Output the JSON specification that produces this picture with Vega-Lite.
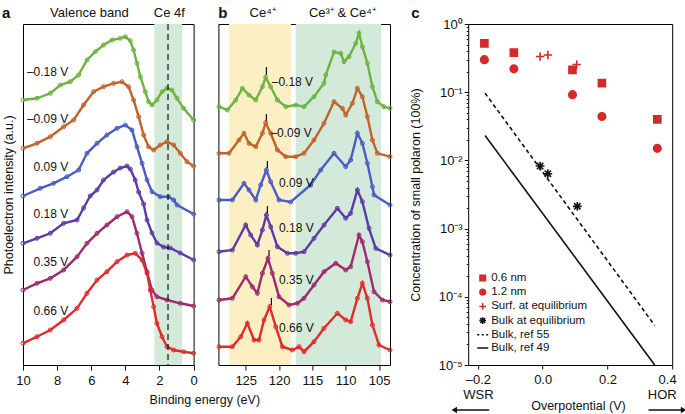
{
  "$schema": "https://vega.github.io/schema/vega-lite/v6.json",
  "background": "white",
  "padding": {"left": 1, "top": 5, "right": 0, "bottom": 0},
  "config": {
    "view": {"stroke": "black", "strokeWidth": 1},
    "font": "Liberation Sans",
    "axis": {"domain": false, "grid": false, "labelFont": "Liberation Sans", "titleFont": "Liberation Sans", "labelColor": "#111", "titleColor": "#111", "tickColor": "#111", "labelFontSize": 13, "titleFontSize": 12.5, "titleFontWeight": "normal", "labelFlush": false, "labelOverlap": false},
    "text": {"font": "Liberation Sans", "color": "#111"},
    "legend": {"labelFont": "Liberation Sans", "labelColor": "#111"}
  },
  "resolve": {"scale": {"color": "independent", "fill": "independent", "stroke": "independent", "shape": "independent"}},
  "datasets": {
    "specA": [
      {"V": "–0.18 V", "E": 10, "I": 265}, {"V": "–0.18 V", "E": 9.18, "I": 266.7}, {"V": "–0.18 V", "E": 8.4, "I": 271.7}, {"V": "–0.18 V", "E": 7.81, "I": 280}, {"V": "–0.18 V", "E": 7.23, "I": 283.3}, {"V": "–0.18 V", "E": 6.74, "I": 290}, {"V": "–0.18 V", "E": 6.25, "I": 305}, {"V": "–0.18 V", "E": 5.76, "I": 313.3}, {"V": "–0.18 V", "E": 5.28, "I": 320}, {"V": "–0.18 V", "E": 4.78, "I": 325}, {"V": "–0.18 V", "E": 4.3, "I": 326.7}, {"V": "–0.18 V", "E": 4.0, "I": 328.3}, {"V": "–0.18 V", "E": 3.71, "I": 324.3}, {"V": "–0.18 V", "E": 3.52, "I": 315}, {"V": "–0.18 V", "E": 3.32, "I": 301.7}, {"V": "–0.18 V", "E": 3.12, "I": 288.3}, {"V": "–0.18 V", "E": 2.83, "I": 273.3}, {"V": "–0.18 V", "E": 2.64, "I": 263.3}, {"V": "–0.18 V", "E": 2.44, "I": 260}, {"V": "–0.18 V", "E": 2.15, "I": 265}, {"V": "–0.18 V", "E": 1.85, "I": 273.3}, {"V": "–0.18 V", "E": 1.56, "I": 276.7}, {"V": "–0.18 V", "E": 1.27, "I": 275}, {"V": "–0.18 V", "E": 0.97, "I": 266.7}, {"V": "–0.18 V", "E": 0.59, "I": 256.7}, {"V": "–0.18 V", "E": 0, "I": 245},
      {"V": "–0.09 V", "E": 10, "I": 216.7}, {"V": "–0.09 V", "E": 9.18, "I": 221.7}, {"V": "–0.09 V", "E": 8.4, "I": 228.3}, {"V": "–0.09 V", "E": 7.62, "I": 238.3}, {"V": "–0.09 V", "E": 7.03, "I": 245}, {"V": "–0.09 V", "E": 6.45, "I": 260}, {"V": "–0.09 V", "E": 5.86, "I": 273.3}, {"V": "–0.09 V", "E": 5.28, "I": 278.3}, {"V": "–0.09 V", "E": 4.69, "I": 281.7}, {"V": "–0.09 V", "E": 4.2, "I": 283.3}, {"V": "–0.09 V", "E": 3.81, "I": 278.3}, {"V": "–0.09 V", "E": 3.52, "I": 265}, {"V": "–0.09 V", "E": 3.22, "I": 248.3}, {"V": "–0.09 V", "E": 2.93, "I": 230}, {"V": "–0.09 V", "E": 2.64, "I": 218.3}, {"V": "–0.09 V", "E": 2.34, "I": 215}, {"V": "–0.09 V", "E": 1.95, "I": 220}, {"V": "–0.09 V", "E": 1.56, "I": 223.3}, {"V": "–0.09 V", "E": 1.17, "I": 220}, {"V": "–0.09 V", "E": 0.78, "I": 211.7}, {"V": "–0.09 V", "E": 0.39, "I": 203.3}, {"V": "–0.09 V", "E": 0, "I": 199},
      {"V": "0.09 V", "E": 10, "I": 169}, {"V": "0.09 V", "E": 8.99, "I": 176.7}, {"V": "0.09 V", "E": 8.21, "I": 181.7}, {"V": "0.09 V", "E": 7.42, "I": 188.3}, {"V": "0.09 V", "E": 6.74, "I": 195}, {"V": "0.09 V", "E": 6.25, "I": 211.7}, {"V": "0.09 V", "E": 5.66, "I": 221.7}, {"V": "0.09 V", "E": 5.08, "I": 230}, {"V": "0.09 V", "E": 4.49, "I": 236.7}, {"V": "0.09 V", "E": 4.0, "I": 240}, {"V": "0.09 V", "E": 3.61, "I": 235}, {"V": "0.09 V", "E": 3.32, "I": 218.3}, {"V": "0.09 V", "E": 3.02, "I": 201.7}, {"V": "0.09 V", "E": 2.73, "I": 185}, {"V": "0.09 V", "E": 2.44, "I": 173.3}, {"V": "0.09 V", "E": 1.95, "I": 168.3}, {"V": "0.09 V", "E": 1.47, "I": 168.3}, {"V": "0.09 V", "E": 1.17, "I": 165}, {"V": "0.09 V", "E": 0.97, "I": 160}, {"V": "0.09 V", "E": 0, "I": 151},
      {"V": "0.18 V", "E": 10, "I": 121.7}, {"V": "0.18 V", "E": 9.18, "I": 126.7}, {"V": "0.18 V", "E": 8.4, "I": 131.7}, {"V": "0.18 V", "E": 7.62, "I": 141.7}, {"V": "0.18 V", "E": 6.83, "I": 145}, {"V": "0.18 V", "E": 6.45, "I": 157}, {"V": "0.18 V", "E": 6.06, "I": 169}, {"V": "0.18 V", "E": 5.66, "I": 175}, {"V": "0.18 V", "E": 5.28, "I": 185}, {"V": "0.18 V", "E": 4.69, "I": 193}, {"V": "0.18 V", "E": 4.3, "I": 197}, {"V": "0.18 V", "E": 3.9, "I": 199}, {"V": "0.18 V", "E": 3.71, "I": 196}, {"V": "0.18 V", "E": 3.42, "I": 185}, {"V": "0.18 V", "E": 3.22, "I": 173}, {"V": "0.18 V", "E": 2.93, "I": 161}, {"V": "0.18 V", "E": 2.73, "I": 145}, {"V": "0.18 V", "E": 2.44, "I": 132}, {"V": "0.18 V", "E": 2.15, "I": 122}, {"V": "0.18 V", "E": 1.76, "I": 118}, {"V": "0.18 V", "E": 1.37, "I": 117}, {"V": "0.18 V", "E": 0.78, "I": 112}, {"V": "0.18 V", "E": 0, "I": 105},
      {"V": "0.35 V", "E": 10, "I": 75}, {"V": "0.35 V", "E": 9.18, "I": 81.7}, {"V": "0.35 V", "E": 8.4, "I": 86.7}, {"V": "0.35 V", "E": 7.62, "I": 95}, {"V": "0.35 V", "E": 6.83, "I": 108.3}, {"V": "0.35 V", "E": 6.25, "I": 121.7}, {"V": "0.35 V", "E": 5.66, "I": 131.7}, {"V": "0.35 V", "E": 5.08, "I": 140}, {"V": "0.35 V", "E": 4.49, "I": 148.3}, {"V": "0.35 V", "E": 3.9, "I": 153.3}, {"V": "0.35 V", "E": 3.61, "I": 148.3}, {"V": "0.35 V", "E": 3.32, "I": 131.7}, {"V": "0.35 V", "E": 3.02, "I": 111.7}, {"V": "0.35 V", "E": 2.73, "I": 93.3}, {"V": "0.35 V", "E": 2.44, "I": 75}, {"V": "0.35 V", "E": 2.15, "I": 68.3}, {"V": "0.35 V", "E": 1.56, "I": 65}, {"V": "0.35 V", "E": 0.78, "I": 61.7}, {"V": "0.35 V", "E": 0, "I": 59},
      {"V": "0.66 V", "E": 10, "I": 21.7}, {"V": "0.66 V", "E": 9.18, "I": 28.3}, {"V": "0.66 V", "E": 8.4, "I": 35}, {"V": "0.66 V", "E": 7.62, "I": 45}, {"V": "0.66 V", "E": 6.83, "I": 56.7}, {"V": "0.66 V", "E": 6.25, "I": 71.7}, {"V": "0.66 V", "E": 5.66, "I": 85}, {"V": "0.66 V", "E": 5.08, "I": 93.3}, {"V": "0.66 V", "E": 4.49, "I": 103.3}, {"V": "0.66 V", "E": 3.9, "I": 110}, {"V": "0.66 V", "E": 3.42, "I": 111.7}, {"V": "0.66 V", "E": 3.02, "I": 105}, {"V": "0.66 V", "E": 2.73, "I": 91.7}, {"V": "0.66 V", "E": 2.54, "I": 75}, {"V": "0.66 V", "E": 2.34, "I": 58.3}, {"V": "0.66 V", "E": 2.15, "I": 41.7}, {"V": "0.66 V", "E": 1.85, "I": 28.3}, {"V": "0.66 V", "E": 1.56, "I": 18.3}, {"V": "0.66 V", "E": 1.17, "I": 15}, {"V": "0.66 V", "E": 0.59, "I": 13.3}, {"V": "0.66 V", "E": 0, "I": 11.7}
    ],
    "specB": [
      {"V": "–0.18 V", "E": 129.01, "I": 258.3}, {"V": "–0.18 V", "E": 127.75, "I": 255}, {"V": "–0.18 V", "E": 126.5, "I": 265}, {"V": "–0.18 V", "E": 125.5, "I": 276.7}, {"V": "–0.18 V", "E": 124.51, "I": 270}, {"V": "–0.18 V", "E": 123.5, "I": 265}, {"V": "–0.18 V", "E": 122.5, "I": 278.3}, {"V": "–0.18 V", "E": 122.01, "I": 287.7}, {"V": "–0.18 V", "E": 121.26, "I": 278.3}, {"V": "–0.18 V", "E": 120.25, "I": 265}, {"V": "–0.18 V", "E": 119, "I": 258.3}, {"V": "–0.18 V", "E": 117.5, "I": 260}, {"V": "–0.18 V", "E": 116.26, "I": 258.3}, {"V": "–0.18 V", "E": 114.76, "I": 268.3}, {"V": "–0.18 V", "E": 113.26, "I": 281.7}, {"V": "–0.18 V", "E": 113.0, "I": 290}, {"V": "–0.18 V", "E": 111.76, "I": 313}, {"V": "–0.18 V", "E": 110.75, "I": 311.7}, {"V": "–0.18 V", "E": 110.26, "I": 303.3}, {"V": "–0.18 V", "E": 109.51, "I": 308.3}, {"V": "–0.18 V", "E": 108.5, "I": 321.7}, {"V": "–0.18 V", "E": 108.01, "I": 331.7}, {"V": "–0.18 V", "E": 107.5, "I": 318.3}, {"V": "–0.18 V", "E": 106.75, "I": 301.7}, {"V": "–0.18 V", "E": 106, "I": 278.3}, {"V": "–0.18 V", "E": 105.25, "I": 263.3}, {"V": "–0.18 V", "E": 104.26, "I": 258.3}, {"V": "–0.18 V", "E": 103.36, "I": 256.7},
      {"V": "–0.09 V", "E": 129.01, "I": 211.7}, {"V": "–0.09 V", "E": 127.51, "I": 211.7}, {"V": "–0.09 V", "E": 126.01, "I": 225}, {"V": "–0.09 V", "E": 125.26, "I": 231.7}, {"V": "–0.09 V", "E": 124.51, "I": 221.7}, {"V": "–0.09 V", "E": 123.5, "I": 218.3}, {"V": "–0.09 V", "E": 122.5, "I": 231.7}, {"V": "–0.09 V", "E": 122.01, "I": 242.3}, {"V": "–0.09 V", "E": 121.26, "I": 231.7}, {"V": "–0.09 V", "E": 120.25, "I": 215}, {"V": "–0.09 V", "E": 119, "I": 208.3}, {"V": "–0.09 V", "E": 117.5, "I": 208.3}, {"V": "–0.09 V", "E": 116.26, "I": 211.7}, {"V": "–0.09 V", "E": 114.76, "I": 225}, {"V": "–0.09 V", "E": 113.26, "I": 241.7}, {"V": "–0.09 V", "E": 111.76, "I": 263.3}, {"V": "–0.09 V", "E": 110.5, "I": 256.7}, {"V": "–0.09 V", "E": 110, "I": 250}, {"V": "–0.09 V", "E": 109, "I": 261.7}, {"V": "–0.09 V", "E": 108.25, "I": 276.7}, {"V": "–0.09 V", "E": 107.5, "I": 268.3}, {"V": "–0.09 V", "E": 106.75, "I": 248.3}, {"V": "–0.09 V", "E": 106, "I": 225}, {"V": "–0.09 V", "E": 105.25, "I": 211.7}, {"V": "–0.09 V", "E": 103.36, "I": 208.3},
      {"V": "0.09 V", "E": 129.01, "I": 165}, {"V": "0.09 V", "E": 127, "I": 165}, {"V": "0.09 V", "E": 125.26, "I": 181.7}, {"V": "0.09 V", "E": 124.51, "I": 175}, {"V": "0.09 V", "E": 123.5, "I": 165}, {"V": "0.09 V", "E": 122.76, "I": 180}, {"V": "0.09 V", "E": 121.9, "I": 195}, {"V": "0.09 V", "E": 121.26, "I": 183.3}, {"V": "0.09 V", "E": 120.01, "I": 165}, {"V": "0.09 V", "E": 118.26, "I": 163}, {"V": "0.09 V", "E": 115.26, "I": 180}, {"V": "0.09 V", "E": 113.76, "I": 195}, {"V": "0.09 V", "E": 111.76, "I": 211.7}, {"V": "0.09 V", "E": 110, "I": 198.3}, {"V": "0.09 V", "E": 109.26, "I": 205}, {"V": "0.09 V", "E": 108.25, "I": 231.7}, {"V": "0.09 V", "E": 107.5, "I": 221.7}, {"V": "0.09 V", "E": 106.75, "I": 201.7}, {"V": "0.09 V", "E": 106, "I": 178.3}, {"V": "0.09 V", "E": 105.76, "I": 170}, {"V": "0.09 V", "E": 103.36, "I": 160},
      {"V": "0.18 V", "E": 129.01, "I": 113.3}, {"V": "0.18 V", "E": 127, "I": 115}, {"V": "0.18 V", "E": 125, "I": 140}, {"V": "0.18 V", "E": 124.26, "I": 130}, {"V": "0.18 V", "E": 123.25, "I": 120}, {"V": "0.18 V", "E": 122.5, "I": 135}, {"V": "0.18 V", "E": 121.9, "I": 150}, {"V": "0.18 V", "E": 121.26, "I": 138.3}, {"V": "0.18 V", "E": 120.25, "I": 118.3}, {"V": "0.18 V", "E": 118.75, "I": 111.7}, {"V": "0.18 V", "E": 117.5, "I": 111.7}, {"V": "0.18 V", "E": 116.26, "I": 113.3}, {"V": "0.18 V", "E": 114.76, "I": 126.7}, {"V": "0.18 V", "E": 113.26, "I": 140}, {"V": "0.18 V", "E": 111.25, "I": 156.7}, {"V": "0.18 V", "E": 110, "I": 146.7}, {"V": "0.18 V", "E": 109.26, "I": 151.7}, {"V": "0.18 V", "E": 108.25, "I": 175}, {"V": "0.18 V", "E": 107.5, "I": 163.3}, {"V": "0.18 V", "E": 106.51, "I": 136.7}, {"V": "0.18 V", "E": 105.5, "I": 116.7}, {"V": "0.18 V", "E": 103.36, "I": 110},
      {"V": "0.35 V", "E": 129.01, "I": 65}, {"V": "0.35 V", "E": 127, "I": 66.7}, {"V": "0.35 V", "E": 125, "I": 88.3}, {"V": "0.35 V", "E": 124, "I": 78.3}, {"V": "0.35 V", "E": 123.25, "I": 71.7}, {"V": "0.35 V", "E": 122.5, "I": 91.7}, {"V": "0.35 V", "E": 121.66, "I": 106.7}, {"V": "0.35 V", "E": 121, "I": 91.7}, {"V": "0.35 V", "E": 120.01, "I": 68.3}, {"V": "0.35 V", "E": 118.51, "I": 60}, {"V": "0.35 V", "E": 117.25, "I": 61.7}, {"V": "0.35 V", "E": 116.26, "I": 66.7}, {"V": "0.35 V", "E": 114.76, "I": 80}, {"V": "0.35 V", "E": 113.26, "I": 93.3}, {"V": "0.35 V", "E": 111.5, "I": 101.7}, {"V": "0.35 V", "E": 110, "I": 95}, {"V": "0.35 V", "E": 109.26, "I": 98.3}, {"V": "0.35 V", "E": 108.01, "I": 130}, {"V": "0.35 V", "E": 107.5, "I": 123.3}, {"V": "0.35 V", "E": 106.75, "I": 103.3}, {"V": "0.35 V", "E": 105.76, "I": 73.3}, {"V": "0.35 V", "E": 104.5, "I": 65}, {"V": "0.35 V", "E": 103.36, "I": 63.3},
      {"V": "0.66 V", "E": 129.01, "I": 18.3}, {"V": "0.66 V", "E": 127, "I": 18.3}, {"V": "0.66 V", "E": 125.75, "I": 28.3}, {"V": "0.66 V", "E": 124.75, "I": 41.7}, {"V": "0.66 V", "E": 123.76, "I": 25}, {"V": "0.66 V", "E": 123.01, "I": 25}, {"V": "0.66 V", "E": 122.26, "I": 45}, {"V": "0.66 V", "E": 121.4, "I": 58.3}, {"V": "0.66 V", "E": 120.5, "I": 38.3}, {"V": "0.66 V", "E": 119.5, "I": 18.3}, {"V": "0.66 V", "E": 118, "I": 15}, {"V": "0.66 V", "E": 117.01, "I": 18.3}, {"V": "0.66 V", "E": 116.26, "I": 13.3}, {"V": "0.66 V", "E": 114.76, "I": 23.3}, {"V": "0.66 V", "E": 113.26, "I": 36.7}, {"V": "0.66 V", "E": 111.25, "I": 51.7}, {"V": "0.66 V", "E": 110, "I": 45}, {"V": "0.66 V", "E": 109.26, "I": 43.3}, {"V": "0.66 V", "E": 108.25, "I": 66.7}, {"V": "0.66 V", "E": 107.5, "I": 81.7}, {"V": "0.66 V", "E": 106.75, "I": 66.7}, {"V": "0.66 V", "E": 106, "I": 40}, {"V": "0.66 V", "E": 105.01, "I": 20}, {"V": "0.66 V", "E": 103.36, "I": 15}
    ],
    "labelsA": [
      {"V": "–0.18 V", "E": 9.77, "I": 293.3}, {"V": "–0.09 V", "E": 9.77, "I": 246}, {"V": "0.09 V", "E": 9.38, "I": 198.3}, {"V": "0.18 V", "E": 9.38, "I": 151}, {"V": "0.35 V", "E": 9.38, "I": 103.3}, {"V": "0.66 V", "E": 9.38, "I": 54.3}
    ],
    "labelsB": [
      {"V": "–0.18 V", "E": 121.1, "I": 283}, {"V": "–0.09 V", "E": 121.3, "I": 232}, {"V": "0.09 V", "E": 120.0, "I": 182}, {"V": "0.18 V", "E": 120.0, "I": 137}, {"V": "0.35 V", "E": 120.0, "I": 85}, {"V": "0.66 V", "E": 120.0, "I": 37}
    ],
    "peaksB": [
      {"V": "–0.18 V", "E": 121.9, "I": 290, "I2": 298}, {"V": "–0.09 V", "E": 121.9, "I": 244, "I2": 251}, {"V": "0.09 V", "E": 121.75, "I": 197, "I2": 204}, {"V": "0.18 V", "E": 121.75, "I": 152, "I2": 159}, {"V": "0.35 V", "E": 121.5, "I": 109, "I2": 115}, {"V": "0.66 V", "E": 121.15, "I": 60, "I2": 67}
    ],
    "pointsC": [
      {"s": "0.6 nm", "v": -0.18, "c": 0.52}, {"s": "0.6 nm", "v": -0.089, "c": 0.38}, {"s": "0.6 nm", "v": 0.092, "c": 0.213}, {"s": "0.6 nm", "v": 0.183, "c": 0.136}, {"s": "0.6 nm", "v": 0.354, "c": 0.04},
      {"s": "1.2 nm", "v": -0.18, "c": 0.30}, {"s": "1.2 nm", "v": -0.089, "c": 0.22}, {"s": "1.2 nm", "v": 0.092, "c": 0.092}, {"s": "1.2 nm", "v": 0.183, "c": 0.044}, {"s": "1.2 nm", "v": 0.354, "c": 0.015},
      {"s": "Surf. at equilibrium", "v": -0.008, "c": 0.333}, {"s": "Surf. at equilibrium", "v": 0.016, "c": 0.352}, {"s": "Surf. at equilibrium", "v": 0.105, "c": 0.255},
      {"s": "Bulk at equilibrium", "v": -0.008, "c": 0.00826}, {"s": "Bulk at equilibrium", "v": 0.016, "c": 0.00638}, {"s": "Bulk at equilibrium", "v": 0.107, "c": 0.00212}
    ],
    "linesC": [
      {"s": "Bulk, ref 55", "v": -0.178, "c": 0.0968}, {"s": "Bulk, ref 55", "v": 0.346, "c": 0.000038},
      {"s": "Bulk, ref 49", "v": -0.178, "c": 0.0232}, {"s": "Bulk, ref 49", "v": 0.346, "c": 0.00001}
    ],
    "arrowsC": [
      {"dir": "L", "v": -0.273, "v2": -0.165, "c": 0.00000219},
      {"dir": "R", "v": 0.327, "v2": 0.435, "c": 0.00000219}
    ]
  },
  "bounds": "flush",
  "spacing": 24.4,
  "hconcat": [
    {
      "width": 170.6,
      "height": 341,
      "layer": [
        {
          "data": {"values": [{"E": 2.3, "E2": 0.68}]},
          "mark": {"type": "rect", "color": "#d3eadb"},
          "encoding": {
            "x": {"field": "E", "type": "quantitative", "scale": {"domain": [10, 0], "nice": false, "zero": false},
                  "axis": {"values": [0, 2, 4, 6, 8, 10], "tickCount": 20, "format": ".0f", "labelOverlap": false, "tickSize": 5, "labelPadding": 4, "title": "Binding energy (eV)", "titleX": 181.3, "titleY": 34.3, "titleBaseline": "middle"}},
            "x2": {"field": "E2"}
          }
        },
        {
          "data": {"name": "specA"},
          "mark": {"type": "line", "strokeWidth": 2.4, "point": {"filled": false, "size": 16, "strokeWidth": 1}},
          "encoding": {
            "x": {"field": "E", "type": "quantitative"},
            "y": {"field": "I", "type": "quantitative", "scale": {"domain": [0, 341], "nice": false, "zero": false},
                  "axis": {"title": "Photoelectron intensity (a.u.)", "labels": false, "ticks": false, "titlePadding": 8}},
            "color": {"field": "V", "type": "nominal", "legend": null,
                      "scale": {"domain": ["–0.18 V", "–0.09 V", "0.09 V", "0.18 V", "0.35 V", "0.66 V"], "range": ["#6db33f", "#c2622b", "#4a5cc4", "#5c3aa6", "#9e2a6e", "#e02b2b"]}},
            "detail": {"field": "V"}
          }
        },
        {
          "data": {"values": [{"E": 1.5}]},
          "mark": {"type": "rule", "color": "#111", "strokeDash": [6, 4], "strokeWidth": 1.2},
          "encoding": {"x": {"field": "E", "type": "quantitative"}}
        },
        {
          "data": {"name": "labelsA"},
          "mark": {"type": "text", "align": "left", "baseline": "middle", "fontSize": 12},
          "encoding": {"x": {"field": "E", "type": "quantitative"}, "y": {"field": "I", "type": "quantitative"}, "text": {"field": "V"}}
        },
        {
          "data": {"values": [{"E": 6.11, "I": 352.3, "t": "Valence band"}, {"E": 1.42, "I": 352.3, "t": "Ce 4f"}]},
          "mark": {"type": "text", "align": "center", "baseline": "middle", "fontSize": 13},
          "encoding": {"x": {"field": "E", "type": "quantitative"}, "y": {"field": "I", "type": "quantitative"}, "text": {"field": "t"}}
        },
        {
          "data": {"values": [{"E": 10.98, "I": 352.3, "t": "a"}]},
          "mark": {"type": "text", "align": "center", "baseline": "middle", "fontSize": 15, "fontWeight": "bold"},
          "encoding": {"x": {"field": "E", "type": "quantitative"}, "y": {"field": "I", "type": "quantitative"}, "text": {"field": "t"}}
        }
      ]
    },
    {
      "width": 171.6,
      "height": 341,
      "layer": [
        {
          "data": {"values": [{"E": 127.5, "E2": 118.2, "k": "y"}, {"E": 117.5, "E2": 104.7, "k": "g"}]},
          "mark": {"type": "rect"},
          "encoding": {
            "x": {"field": "E", "type": "quantitative", "scale": {"domain": [103.36, 129.1], "reverse": true, "nice": false, "zero": false},
                  "axis": {"values": [125, 120, 115, 110, 105], "tickCount": 20, "format": ".0f", "labelOverlap": false, "tickSize": 5, "labelPadding": 4, "title": null}},
            "x2": {"field": "E2"},
            "fill": {"field": "k", "type": "nominal", "legend": null, "scale": {"domain": ["y", "g"], "range": ["#fcefc4", "#d3eadb"]}}
          }
        },
        {
          "data": {"name": "specB"},
          "mark": {"type": "line", "strokeWidth": 2.4, "point": {"filled": false, "size": 16, "strokeWidth": 1}},
          "encoding": {
            "x": {"field": "E", "type": "quantitative"},
            "y": {"field": "I", "type": "quantitative", "scale": {"domain": [0, 341], "nice": false, "zero": false}, "axis": null},
            "color": {"field": "V", "type": "nominal", "legend": null,
                      "scale": {"domain": ["–0.18 V", "–0.09 V", "0.09 V", "0.18 V", "0.35 V", "0.66 V"], "range": ["#6db33f", "#c2622b", "#4a5cc4", "#5c3aa6", "#9e2a6e", "#e02b2b"]}},
            "detail": {"field": "V"}
          }
        },
        {
          "data": {"name": "peaksB"},
          "mark": {"type": "rule", "color": "#111", "strokeWidth": 1.2},
          "encoding": {"x": {"field": "E", "type": "quantitative"}, "y": {"field": "I", "type": "quantitative"}, "y2": {"field": "I2"}}
        },
        {
          "data": {"name": "labelsB"},
          "mark": {"type": "text", "align": "left", "baseline": "middle", "fontSize": 12},
          "encoding": {"x": {"field": "E", "type": "quantitative"}, "y": {"field": "I", "type": "quantitative"}, "text": {"field": "V"}}
        },
        {
          "data": {"values": [{"E": 122.46, "I": 352.3, "t": "Ce⁴⁺"}, {"E": 110.5, "I": 352.3, "t": "Ce³⁺ & Ce⁴⁺"}]},
          "mark": {"type": "text", "align": "center", "baseline": "middle", "fontSize": 13},
          "encoding": {"x": {"field": "E", "type": "quantitative"}, "y": {"field": "I", "type": "quantitative"}, "text": {"field": "t"}}
        },
        {
          "data": {"values": [{"E": 128.45, "I": 352.3, "t": "b"}]},
          "mark": {"type": "text", "align": "center", "baseline": "middle", "fontSize": 15, "fontWeight": "bold"},
          "encoding": {"x": {"field": "E", "type": "quantitative"}, "y": {"field": "I", "type": "quantitative"}, "text": {"field": "t"}}
        }
      ]
    },
    {
      "width": 28.9,
      "height": 341,
      "view": {"stroke": null},
      "data": {"values": []},
      "mark": {"type": "point"},
      "encoding": {}
    },
    {
      "width": 204,
      "height": 341,
      "layer": [
        {
          "data": {"name": "linesC"},
          "transform": [{"filter": "datum.s == 'Bulk, ref 55'"}],
          "mark": {"type": "line", "color": "#111", "strokeWidth": 1.6, "strokeDash": [4, 3]},
          "encoding": {
            "x": {"field": "v", "type": "quantitative", "scale": {"domain": [-0.23, 0.4], "nice": false, "zero": false},
                  "axis": {"values": [-0.2, 0, 0.2, 0.4], "tickCount": 20, "labelOverlap": false, "tickSize": 4, "labelPadding": 4, "labelLineHeight": 15,
                           "labelAlign": {"condition": {"test": "datum.value > 0.3", "value": "right"}, "value": "center"},
                           "labelOffset": {"condition": {"test": "datum.value > 0.3", "value": 4}, "value": 0},
                           "labelExpr": "datum.value == -0.2 ? ['–0.2', 'WSR'] : datum.value == 0.4 ? ['0.4', 'HOR'] : format(datum.value, '.1f')",
                           "title": "Overpotential (V)", "titleX": 109.7, "titleY": 40, "titleBaseline": "middle"}},
            "y": {"field": "c", "type": "quantitative", "scale": {"type": "log", "domain": [0.00001, 1], "nice": false},
                  "axis": {"title": "Concentration of small polaron (100%)", "titlePadding": 16, "labelPadding": 2, "labelOverlap": false, "tickCount": 100,
                           "values": [0.00001, 0.00002, 0.00003, 0.00004, 0.00005, 0.00006, 0.00007, 0.00008, 0.00009, 0.0001, 0.0002, 0.0003, 0.0004, 0.0005, 0.0006, 0.0007, 0.0008, 0.0009, 0.001, 0.002, 0.003, 0.004, 0.005, 0.006, 0.007, 0.008, 0.009, 0.01, 0.02, 0.03, 0.04, 0.05, 0.06, 0.07, 0.08, 0.09, 0.1, 0.2, 0.3, 0.4, 0.5, 0.6, 0.7, 0.8, 0.9, 1],
                           "labelExpr": "abs(log(datum.value)/LN10 - round(log(datum.value)/LN10)) < 0.001 ? '10' + ['⁰','⁻¹','⁻²','⁻³','⁻⁴','⁻⁵'][-round(log(datum.value)/LN10)] : ''",
                           "tickSize": {"condition": {"test": "abs(log(datum.value)/LN10 - round(log(datum.value)/LN10)) < 0.001", "value": 4}, "value": 2}}}
          }
        },
        {
          "data": {"name": "linesC"},
          "transform": [{"filter": "datum.s == 'Bulk, ref 49'"}],
          "mark": {"type": "line", "color": "#111", "strokeWidth": 1.6},
          "encoding": {"x": {"field": "v", "type": "quantitative"}, "y": {"field": "c", "type": "quantitative"}}
        },
        {
          "data": {"name": "arrowsC"},
          "mark": {"type": "rule", "color": "#111", "strokeWidth": 1.5},
          "encoding": {"x": {"field": "v", "type": "quantitative"}, "x2": {"field": "v2"}, "y": {"field": "c", "type": "quantitative"}}
        },
        {
          "data": {"name": "arrowsC"},
          "transform": [{"filter": "datum.dir == 'L'"}],
          "mark": {"type": "point", "shape": "triangle-left", "filled": true, "color": "#111", "size": 40, "opacity": 1},
          "encoding": {"x": {"field": "v", "type": "quantitative"}, "y": {"field": "c", "type": "quantitative"}}
        },
        {
          "data": {"name": "arrowsC"},
          "transform": [{"filter": "datum.dir == 'R'"}],
          "mark": {"type": "point", "shape": "triangle-right", "filled": true, "color": "#111", "size": 40, "opacity": 1},
          "encoding": {"x": {"field": "v2", "type": "quantitative"}, "y": {"field": "c", "type": "quantitative"}}
        },
        {
          "data": {"values": [{"v": -0.393, "c": 1.435, "t": "c"}]},
          "mark": {"type": "text", "align": "center", "baseline": "middle", "fontSize": 15, "fontWeight": "bold"},
          "encoding": {"x": {"field": "v", "type": "quantitative"}, "y": {"field": "c", "type": "quantitative"}, "text": {"field": "t"}}
        },
        {
          "data": {"name": "pointsC"},
          "mark": {"type": "point", "filled": true, "opacity": 1, "size": 200, "strokeWidth": 1.6},
          "encoding": {
            "x": {"field": "v", "type": "quantitative"},
            "y": {"field": "c", "type": "quantitative"},
            "shape": {"field": "s", "type": "nominal",
                      "scale": {"domain": ["0.6 nm", "1.2 nm", "Surf. at equilibrium", "Bulk at equilibrium", "Bulk, ref 55", "Bulk, ref 49"],
                                "range": ["M-0.5,-0.5H0.5V0.5H-0.5Z", "M0.53,0A0.53,0.53,0,1,1,-0.53,0A0.53,0.53,0,1,1,0.53,0Z", "M-0.6,0H0.6M0,-0.6V0.6", "M-0.62,0H0.62M0,-0.62V0.62M-0.45,-0.45L0.45,0.45M-0.45,0.45L0.45,-0.45", "M-1,0H-0.62M-0.19,0H0.19M0.62,0H1", "M-1,0H1"]},
                      "legend": {"orient": "none", "legendX": 8, "legendY": 247.5, "title": null, "symbolSize": 121, "symbolStrokeWidth": 1.5, "labelFontSize": 11.5, "labelOffset": 2, "rowPadding": 1.2, "padding": 0}},
            "color": {"field": "s", "type": "nominal",
                      "scale": {"domain": ["0.6 nm", "1.2 nm", "Surf. at equilibrium", "Bulk at equilibrium", "Bulk, ref 55", "Bulk, ref 49"],
                                "range": ["#d42a2a", "#d42a2a", "#d42a2a", "#111111", "#111111", "#111111"]},
                      "legend": {"orient": "none", "legendX": 8, "legendY": 247.5, "title": null, "symbolSize": 121, "symbolStrokeWidth": 1.5, "labelFontSize": 11.5, "labelOffset": 2, "rowPadding": 1.2, "padding": 0}},
            "stroke": {"field": "s", "type": "nominal",
                       "scale": {"domain": ["0.6 nm", "1.2 nm", "Surf. at equilibrium", "Bulk at equilibrium", "Bulk, ref 55", "Bulk, ref 49"],
                                 "range": ["#d42a2a", "#d42a2a", "#d42a2a", "#111111", "#111111", "#111111"]},
                       "legend": {"orient": "none", "legendX": 8, "legendY": 247.5, "title": null, "symbolSize": 121, "symbolStrokeWidth": 1.5, "labelFontSize": 11.5, "labelOffset": 2, "rowPadding": 1.2, "padding": 0}}
          }
        }
      ]
    }
  ]
}
